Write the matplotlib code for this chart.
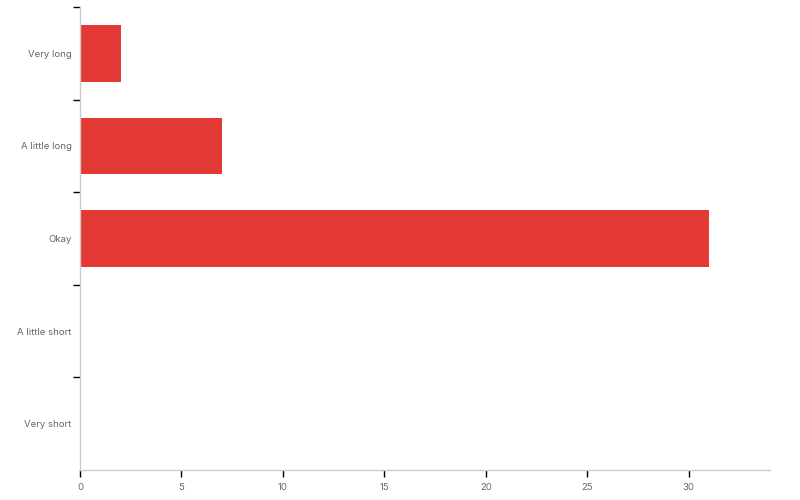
import numpy as np
import matplotlib.pyplot as plt

categories = ["Very long", "A little long", "Okay", "A little short", "Very short"]
counts = [2, 7, 31, 0, 0]
x_ticks = [0, 5, 10, 15, 20, 25, 30]

plt.rcParams['font.family'] = ['Inter', 'DejaVu Sans']

fig = plt.figure(figsize=(8, 5), dpi=100)
ax = fig.add_axes([0.1, 0.06, 0.8625, 0.926])

ypos = np.arange(len(categories))
ax.barh(ypos, counts, height=0.61, color='#e43a36')

ax.set_xlim(0, 34)
ax.set_ylim(len(categories) - 0.5, -0.5)

# labels at centres, tick marks at boundaries
ax.set_yticks(ypos)
ax.set_yticklabels(categories, fontsize=6.9, color='#666666')
ax.tick_params(axis='y', which='major', length=0, pad=6)
ax.set_yticks(np.arange(len(categories)) - 0.5, minor=True)
ax.tick_params(axis='y', which='minor', length=5, width=1, color='black')

ax.set_xticks(x_ticks)
ax.set_xticklabels([str(t) for t in x_ticks], fontsize=6.9, color='#666666')
ax.tick_params(axis='x', length=5, width=1, color='black', pad=4)

for s in ['top', 'right']:
    ax.spines[s].set_visible(False)
for s in ['left', 'bottom']:
    ax.spines[s].set_color('#cccccc')
    ax.spines[s].set_linewidth(1)
    ax.spines[s].set_zorder(3)

fig.savefig('out.png', dpi=100, facecolor='white')
